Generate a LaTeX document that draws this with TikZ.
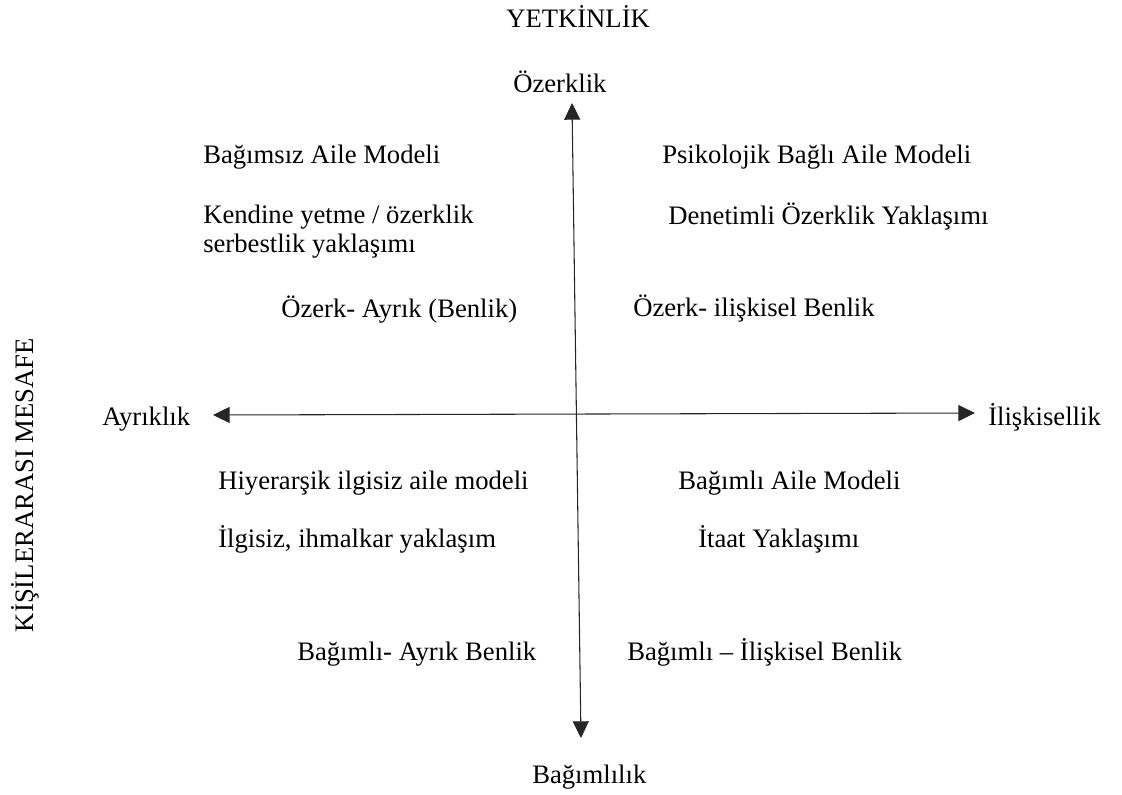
\documentclass[tikz,border=0pt]{standalone}
\usepackage{fontspec}
\setmainfont{Liberation Serif}
\usetikzlibrary{arrows.meta}
\begin{document}
\begin{tikzpicture}
    [x=0.75pt, y=-0.75pt,
     every node/.style={font=\fontsize{20}{24}\selectfont, inner sep=0pt},
     txt/.style={anchor=base west},
     axis/.style={line width=0.8pt, draw=black!85,
       {Triangle[length=12.5pt,width=12pt]}-{Triangle[length=12.5pt,width=12pt]}}]
    \useasboundingbox (0,0) rectangle (1122,794);
    \node[txt] (yetkinlik) at (506,27) {YETKİNLİK};
    \node[txt] (ozerklik) at (513,92) {Özerklik};
    \node[txt] (bagimlilik) at (532,783) {Bağımlılık};
    \node[txt] (ayriklik) at (102,425) {Ayrıklık};
    \node[txt] (iliskisellik) at (988,425) {İlişkisellik};
    \node[rotate=90, anchor=base] (mesafe) at (33,485) {KİŞİLERARASI MESAFE};
    \node[txt] (bagimsiz) at (203,163) {Bağımsız Aile Modeli};
    \node[txt] (kendine) at (203,223) {Kendine yetme / özerklik};
    \node[txt] (serbest) at (203,252) {serbestlik yaklaşımı};
    \node[txt] (ozerkayrik) at (281,317) {Özerk- Ayrık (Benlik)};
    \node[txt] (psikolojik) at (662,163) {Psikolojik Bağlı Aile Modeli};
    \node[txt] (denetimli) at (668,224) {Denetimli Özerklik Yaklaşımı};
    \node[txt] (ozerkilis) at (633,316) {Özerk- ilişkisel Benlik};
    \node[txt] (hiyerarsik) at (218,489) {Hiyerarşik ilgisiz aile modeli};
    \node[txt] (ilgisiz) at (218,547) {İlgisiz, ihmalkar yaklaşım};
    \node[txt] (bagayrik) at (297,660) {Bağımlı- Ayrık Benlik};
    \node[txt] (bagaile) at (678,489) {Bağımlı Aile Modeli};
    \node[txt] (itaat) at (698,547) {İtaat Yaklaşımı};
    \node[txt] (bagilis) at (627,660) {Bağımlı – İlişkisel Benlik};
    \coordinate (ust) at (572,103);
    \coordinate (alt) at (581,738);
    \coordinate (sol) at (213,415);
    \coordinate (sag) at (975,413);
    \draw[axis] (ust) -- (alt);
    \draw[axis] (sol) -- (sag);
\end{tikzpicture}
\end{document}
